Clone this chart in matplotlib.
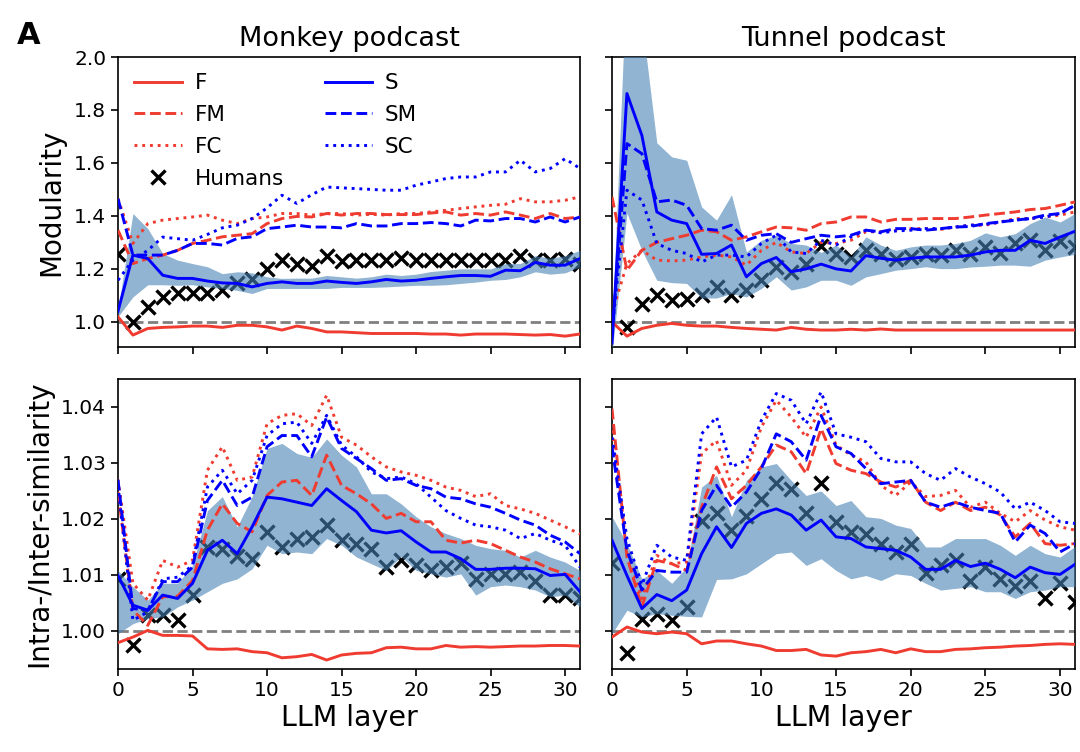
import numpy as np
import matplotlib
matplotlib.use("Agg")
import matplotlib.pyplot as plt
from matplotlib.ticker import FormatStrFormatter

layers = np.arange(32)
nan = np.nan

# ---------------- Modularity, Monkey podcast ----------------
mod_monkey_F = [1.019, 0.950, 0.975, 0.979, 0.981, 0.984, 0.984, 0.979, 0.987, 0.987, 0.981, 0.969, 0.984, 0.975, 0.962, 0.962,
                0.959, 0.956, 0.956, 0.956, 0.956, 0.954, 0.954, 0.950, 0.954, 0.954, 0.954, 0.952, 0.950, 0.952, 0.946, 0.954]
mod_monkey_FM = [1.346, 1.220, 1.239, 1.252, 1.270, 1.296, 1.308, 1.321, 1.327, 1.333, 1.371, 1.390, 1.398, 1.396, 1.409, 1.403,
                 1.409, 1.409, 1.405, 1.405, 1.405, 1.411, 1.415, 1.403, 1.409, 1.403, 1.415, 1.403, 1.390, 1.409, 1.390, 1.396]
mod_monkey_FC = [1.465, 1.296, 1.371, 1.384, 1.390, 1.396, 1.403, 1.384, 1.371, 1.390, 1.396, 1.409, 1.409, 1.403, 1.409, 1.409,
                 1.403, 1.406, 1.403, 1.409, 1.409, 1.415, 1.421, 1.428, 1.434, 1.440, 1.444, 1.465, 1.453, 1.453, 1.459, 1.472]
mod_monkey_S = [1.040, 1.252, 1.239, 1.176, 1.164, 1.164, 1.154, 1.147, 1.145, 1.132, 1.145, 1.151, 1.145, 1.145, 1.154, 1.149,
                1.145, 1.151, 1.160, 1.154, 1.157, 1.164, 1.170, 1.175, 1.175, 1.172, 1.195, 1.193, 1.224, 1.214, 1.214, 1.239]
mod_monkey_S_lo = [1.020, 1.094, 1.140, 1.140, 1.138, 1.140, 1.132, 1.126, 1.119, 1.107, 1.126, 1.126, 1.126, 1.126, 1.126, 1.130,
                   1.130, 1.130, 1.132, 1.135, 1.138, 1.138, 1.140, 1.145, 1.150, 1.157, 1.160, 1.170, 1.189, 1.180, 1.185, 1.208]
mod_monkey_S_hi = [1.045, 1.409, 1.352, 1.258, 1.233, 1.220, 1.208, 1.182, 1.189, 1.185, 1.170, 1.164, 1.165, 1.165, 1.175, 1.170,
                   1.165, 1.170, 1.180, 1.175, 1.180, 1.190, 1.195, 1.200, 1.200, 1.200, 1.220, 1.220, 1.250, 1.240, 1.250, 1.270]
mod_monkey_SM = [1.465, 1.252, 1.252, 1.252, 1.270, 1.296, 1.296, 1.290, 1.315, 1.321, 1.352, 1.358, 1.365, 1.358, 1.358, 1.355,
                 1.371, 1.362, 1.362, 1.371, 1.371, 1.375, 1.371, 1.362, 1.384, 1.381, 1.390, 1.390, 1.377, 1.396, 1.377, 1.396]
mod_monkey_SC = [1.157, 1.233, 1.270, 1.320, 1.314, 1.308, 1.330, 1.355, 1.365, 1.390, 1.430, 1.478, 1.447, 1.480, 1.509, 1.506,
                 1.503, 1.500, 1.497, 1.497, 1.516, 1.528, 1.541, 1.547, 1.547, 1.566, 1.566, 1.610, 1.566, 1.579, 1.616, 1.579]
mod_monkey_H = [1.258, 1.000, 1.057, 1.094, 1.110, 1.110, 1.110, 1.122, 1.145, 1.163, 1.200, 1.235, 1.220, 1.210, 1.248, 1.230,
                1.233, 1.233, 1.233, 1.240, 1.233, 1.233, 1.233, 1.233, 1.233, 1.233, 1.233, 1.248, 1.233, 1.233, 1.237, 1.220]

# ---------------- Modularity, Tunnel podcast ----------------
mod_tunnel_F = [1.000, 0.946, 0.975, 0.987, 0.994, 0.987, 0.984, 0.984, 0.979, 0.975, 0.972, 0.969, 0.979, 0.972, 0.969, 0.969,
                0.972, 0.969, 0.973, 0.969, 0.969, 0.969, 0.969, 0.969, 0.969, 0.969, 0.969, 0.969, 0.969, 0.969, 0.969, 0.969]
mod_tunnel_FM = [1.472, 1.195, 1.270, 1.300, 1.314, 1.327, 1.346, 1.340, 1.308, 1.321, 1.340, 1.358, 1.355, 1.346, 1.371, 1.377,
                 1.396, 1.396, 1.377, 1.387, 1.387, 1.390, 1.390, 1.390, 1.396, 1.403, 1.409, 1.415, 1.424, 1.428, 1.440, 1.453]
mod_tunnel_FC = [1.030, 1.220, 1.270, 1.233, 1.230, 1.233, 1.245, 1.252, 1.245, 1.214, 1.270, 1.300, 1.264, 1.258, 1.300, 1.296,
                 1.308, 1.340, 1.340, 1.346, 1.352, 1.352, 1.349, 1.358, 1.365, 1.365, 1.377, 1.390, 1.390, 1.396, 1.403, 1.415]
mod_tunnel_S = [0.920, 1.862, 1.704, 1.415, 1.384, 1.371, 1.255, 1.258, 1.290, 1.170, 1.220, 1.243, 1.189, 1.200, 1.218, 1.200,
                1.192, 1.250, 1.240, 1.233, 1.240, 1.245, 1.245, 1.245, 1.252, 1.264, 1.270, 1.270, 1.308, 1.296, 1.320, 1.342]
mod_tunnel_S_lo = [0.880, 1.410, 1.270, 1.157, 1.148, 1.145, 1.090, 1.090, 1.107, 1.094, 1.126, 1.170, 1.120, 1.132, 1.157, 1.157,
                   1.138, 1.170, 1.182, 1.195, 1.201, 1.208, 1.201, 1.201, 1.207, 1.210, 1.214, 1.214, 1.210, 1.233, 1.245, 1.255]
mod_tunnel_S_hi = [0.970, 2.340, 2.140, 1.676, 1.623, 1.610, 1.434, 1.384, 1.480, 1.264, 1.308, 1.327, 1.296, 1.290, 1.262, 1.290,
                   1.245, 1.321, 1.290, 1.270, 1.283, 1.290, 1.290, 1.296, 1.308, 1.336, 1.321, 1.333, 1.371, 1.396, 1.377, 1.409]
mod_tunnel_SM = [0.950, 1.673, 1.635, 1.453, 1.460, 1.440, 1.352, 1.346, 1.365, 1.308, 1.327, 1.333, 1.300, 1.314, 1.327, 1.321,
                 1.327, 1.346, 1.340, 1.352, 1.352, 1.346, 1.352, 1.358, 1.360, 1.371, 1.377, 1.384, 1.390, 1.403, 1.409, 1.440]
mod_tunnel_SC = [0.970, 1.497, 1.460, 1.296, 1.270, 1.258, 1.226, 1.252, 1.252, 1.245, 1.296, 1.327, 1.264, 1.258, 1.308, 1.290,
                 1.321, 1.346, 1.336, 1.343, 1.346, 1.352, 1.352, 1.358, 1.365, 1.368, 1.377, 1.384, 1.390, 1.396, 1.409, 1.440]
mod_tunnel_H = [nan, 0.981, 1.069, 1.101, 1.082, 1.088, 1.101, 1.130, 1.101, 1.122, 1.157, 1.208, 1.189, 1.220, 1.286, 1.258,
                1.245, 1.270, 1.255, 1.239, 1.245, 1.258, 1.252, 1.273, 1.255, 1.283, 1.260, 1.298, 1.308, 1.273, 1.306, 1.283]

# ---------------- Intra/Inter similarity, Monkey podcast ----------------
sim_monkey_F = [0.9979, 0.9989, 1.0001, 0.9992, 0.9992, 0.9991, 0.9968, 0.9967, 0.9968, 0.9963, 0.9961, 0.9952, 0.9954, 0.9958, 0.9948, 0.9957,
                0.9960, 0.9961, 0.9970, 0.9971, 0.9968, 0.9968, 0.9974, 0.9971, 0.9972, 0.9971, 0.9972, 0.9973, 0.9973, 0.9974, 0.9974, 0.9973]
sim_monkey_FM = [1.0248, 1.0037, 1.0010, 1.0061, 1.0062, 1.0090, 1.0180, 1.0227, 1.0192, 1.0177, 1.0242, 1.0266, 1.0269, 1.0242, 1.0314, 1.0260,
                 1.0245, 1.0227, 1.0201, 1.0210, 1.0195, 1.0195, 1.0162, 1.0157, 1.0162, 1.0156, 1.0144, 1.0132, 1.0123, 1.0111, 1.0102, 1.0093]
sim_monkey_FC = [1.0270, 1.0085, 1.0055, 1.0126, 1.0114, 1.0126, 1.0287, 1.0329, 1.0269, 1.0275, 1.0370, 1.0385, 1.0388, 1.0367, 1.0421, 1.0346,
                 1.0332, 1.0311, 1.0293, 1.0284, 1.0278, 1.0269, 1.0257, 1.0251, 1.0240, 1.0245, 1.0224, 1.0218, 1.0210, 1.0198, 1.0186, 1.0173]
sim_monkey_S = [1.0099, 1.0046, 1.0037, 1.0064, 1.0058, 1.0085, 1.0144, 1.0162, 1.0138, 1.0186, 1.0239, 1.0236, 1.0230, 1.0224, 1.0254, 1.0233,
                1.0213, 1.0180, 1.0175, 1.0179, 1.0159, 1.0141, 1.0141, 1.0129, 1.0110, 1.0110, 1.0112, 1.0112, 1.0111, 1.0099, 1.0101, 1.0070]
sim_monkey_S_lo = [0.9995, 1.0013, 1.0022, 1.0025, 1.0043, 1.0055, 1.0070, 1.0085, 1.0093, 1.0111, 1.0153, 1.0138, 1.0141, 1.0138, 1.0165, 1.0153,
                   1.0132, 1.0120, 1.0108, 1.0133, 1.0108, 1.0102, 1.0096, 1.0102, 1.0064, 1.0079, 1.0082, 1.0079, 1.0073, 1.0061, 1.0064, 1.0043]
sim_monkey_S_hi = [1.0108, 1.0079, 1.0055, 1.0085, 1.0085, 1.0117, 1.0215, 1.0240, 1.0186, 1.0240, 1.0326, 1.0335, 1.0317, 1.0310, 1.0343, 1.0314,
                   1.0293, 1.0245, 1.0245, 1.0227, 1.0204, 1.0186, 1.0174, 1.0165, 1.0153, 1.0147, 1.0144, 1.0132, 1.0144, 1.0132, 1.0123, 1.0108]
sim_monkey_SM = [1.0270, 1.0040, 1.0037, 1.0088, 1.0088, 1.0114, 1.0233, 1.0269, 1.0224, 1.0239, 1.0329, 1.0349, 1.0349, 1.0311, 1.0382, 1.0326,
                 1.0308, 1.0290, 1.0269, 1.0272, 1.0260, 1.0254, 1.0239, 1.0236, 1.0227, 1.0221, 1.0210, 1.0198, 1.0189, 1.0171, 1.0159, 1.0138]
sim_monkey_SC = [1.0260, 1.0019, 1.0034, 1.0093, 1.0096, 1.0117, 1.0257, 1.0287, 1.0245, 1.0269, 1.0349, 1.0370, 1.0373, 1.0335, 1.0385, 1.0332,
                 1.0311, 1.0284, 1.0272, 1.0275, 1.0263, 1.0239, 1.0215, 1.0201, 1.0189, 1.0186, 1.0180, 1.0165, 1.0174, 1.0162, 1.0153, 1.0114]
sim_monkey_H = [1.0093, 0.9974, 1.0028, 1.0028, 1.0019, 1.0064, 1.0150, 1.0147, 1.0133, 1.0129, 1.0177, 1.0150, 1.0165, 1.0167, 1.0189, 1.0162,
                1.0156, 1.0147, 1.0115, 1.0126, 1.0117, 1.0108, 1.0114, 1.0121, 1.0093, 1.0101, 1.0101, 1.0105, 1.0090, 1.0065, 1.0065, 1.0058]

# ---------------- Intra/Inter similarity, Tunnel podcast ----------------
sim_tunnel_F = [0.9989, 1.0007, 0.9998, 0.9995, 0.9998, 0.9995, 0.9977, 0.9982, 0.9982, 0.9977, 0.9973, 0.9965, 0.9965, 0.9967, 0.9957, 0.9955,
                0.9961, 0.9963, 0.9967, 0.9961, 0.9968, 0.9963, 0.9963, 0.9967, 0.9968, 0.9970, 0.9971, 0.9973, 0.9974, 0.9976, 0.9977, 0.9976]
sim_tunnel_FM = [1.0397, 1.0132, 1.0043, 1.0126, 1.0120, 1.0108, 1.0221, 1.0293, 1.0236, 1.0260, 1.0293, 1.0332, 1.0320, 1.0281, 1.0361, 1.0299,
                 1.0287, 1.0281, 1.0266, 1.0257, 1.0269, 1.0230, 1.0215, 1.0230, 1.0215, 1.0221, 1.0207, 1.0168, 1.0192, 1.0156, 1.0153, 1.0156]
sim_tunnel_FC = [1.0358, 1.0144, 1.0058, 1.0135, 1.0120, 1.0123, 1.0317, 1.0340, 1.0260, 1.0287, 1.0364, 1.0412, 1.0382, 1.0346, 1.0400, 1.0332,
                 1.0314, 1.0302, 1.0260, 1.0242, 1.0266, 1.0240, 1.0242, 1.0251, 1.0221, 1.0230, 1.0210, 1.0195, 1.0215, 1.0198, 1.0186, 1.0180]
sim_tunnel_S = [1.0162, 1.0099, 1.0040, 1.0065, 1.0054, 1.0073, 1.0138, 1.0186, 1.0149, 1.0192, 1.0210, 1.0218, 1.0207, 1.0180, 1.0198, 1.0168,
                1.0165, 1.0150, 1.0147, 1.0144, 1.0132, 1.0110, 1.0110, 1.0126, 1.0115, 1.0121, 1.0110, 1.0095, 1.0114, 1.0104, 1.0101, 1.0119]
sim_tunnel_S_lo = [0.9995, 1.0037, 1.0025, 1.0031, 1.0028, 1.0026, 1.0025, 1.0092, 1.0093, 1.0102, 1.0120, 1.0138, 1.0141, 1.0117, 1.0129, 1.0108,
                   1.0093, 1.0099, 1.0090, 1.0102, 1.0099, 1.0085, 1.0073, 1.0076, 1.0079, 1.0070, 1.0070, 1.0058, 1.0070, 1.0073, 1.0079, 1.0079]
sim_tunnel_S_hi = [1.0204, 1.0156, 1.0093, 1.0108, 1.0085, 1.0114, 1.0257, 1.0278, 1.0204, 1.0269, 1.0293, 1.0299, 1.0269, 1.0242, 1.0250, 1.0224,
                   1.0233, 1.0204, 1.0201, 1.0189, 1.0183, 1.0150, 1.0150, 1.0165, 1.0165, 1.0165, 1.0153, 1.0135, 1.0153, 1.0138, 1.0132, 1.0151]
sim_tunnel_SM = [1.0329, 1.0144, 1.0073, 1.0108, 1.0105, 1.0105, 1.0215, 1.0260, 1.0221, 1.0248, 1.0290, 1.0352, 1.0338, 1.0305, 1.0385, 1.0329,
                 1.0317, 1.0290, 1.0263, 1.0266, 1.0269, 1.0230, 1.0221, 1.0230, 1.0221, 1.0215, 1.0210, 1.0159, 1.0189, 1.0174, 1.0141, 1.0156]
sim_tunnel_SC = [1.0346, 1.0165, 1.0082, 1.0153, 1.0132, 1.0126, 1.0352, 1.0382, 1.0293, 1.0305, 1.0376, 1.0424, 1.0412, 1.0370, 1.0427, 1.0352,
                 1.0346, 1.0338, 1.0308, 1.0302, 1.0302, 1.0281, 1.0269, 1.0290, 1.0275, 1.0263, 1.0248, 1.0218, 1.0230, 1.0215, 1.0195, 1.0192]
sim_tunnel_H = [1.0121, 0.9960, 1.0022, 1.0030, 1.0020, 1.0043, 1.0196, 1.0211, 1.0180, 1.0205, 1.0235, 1.0264, 1.0254, 1.0210, 1.0264, 1.0195,
                1.0177, 1.0174, 1.0156, 1.0141, 1.0155, 1.0104, 1.0117, 1.0126, 1.0089, 1.0114, 1.0093, 1.0080, 1.0089, 1.0058, 1.0085, 1.0052]

titles = ["Monkey podcast", "Tunnel podcast"]
ylabels = ["Modularity", "Intra-/Inter-similarity"]
xlabel = "LLM layer"

RED = "#ef3b30"
BLUE = "#0000ff"
BAND = "steelblue"

fig = plt.figure(figsize=(10.8, 7.52), dpi=100)
W, H = 1080.0, 752.0
def pos(l, r, t, b):
    return [l / W, 1 - b / H, (r - l) / W, (b - t) / H]

ax_pos = [[pos(118, 580, 57, 347), pos(612, 1075, 57, 347)],
          [pos(118, 580, 379, 669), pos(612, 1075, 379, 669)]]

panels = [
    [(mod_monkey_F, mod_monkey_FM, mod_monkey_FC, mod_monkey_S, mod_monkey_S_lo, mod_monkey_S_hi, mod_monkey_SM, mod_monkey_SC, mod_monkey_H),
     (mod_tunnel_F, mod_tunnel_FM, mod_tunnel_FC, mod_tunnel_S, mod_tunnel_S_lo, mod_tunnel_S_hi, mod_tunnel_SM, mod_tunnel_SC, mod_tunnel_H)],
    [(sim_monkey_F, sim_monkey_FM, sim_monkey_FC, sim_monkey_S, sim_monkey_S_lo, sim_monkey_S_hi, sim_monkey_SM, sim_monkey_SC, sim_monkey_H),
     (sim_tunnel_F, sim_tunnel_FM, sim_tunnel_FC, sim_tunnel_S, sim_tunnel_S_lo, sim_tunnel_S_hi, sim_tunnel_SM, sim_tunnel_SC, sim_tunnel_H)],
]

ylims = [(0.905, 2.0), (0.9932, 1.045)]
yticks = [np.arange(1.0, 2.01, 0.2), np.arange(1.00, 1.041, 0.01)]
yfmt = ["%.1f", "%.2f"]
LW = 2.1

for r in range(2):
    for c in range(2):
        ax = fig.add_axes(ax_pos[r][c])
        F, FM, FC, S, S_lo, S_hi, SM, SC, Hm = panels[r][c]
        ax.axhline(1.0, color="gray", ls="--", lw=2.0, zorder=1)
        hx, = ax.plot(layers, Hm, ls="none", marker="x", ms=10, mew=2.4, color="black", zorder=2, label="Humans")
        ax.fill_between(layers, S_lo, S_hi, color=BAND, alpha=0.6, lw=0, zorder=3)
        l_F, = ax.plot(layers, F, color=RED, ls="-", lw=LW, zorder=4, label="F")
        l_FM, = ax.plot(layers, FM, color=RED, ls="--", lw=LW, zorder=4, label="FM")
        l_FC, = ax.plot(layers, FC, color=RED, ls=":", lw=LW, zorder=4, label="FC")
        l_S, = ax.plot(layers, S, color=BLUE, ls="-", lw=LW, zorder=5, label="S")
        l_SM, = ax.plot(layers, SM, color=BLUE, ls="--", lw=LW, zorder=5, label="SM")
        l_SC, = ax.plot(layers, SC, color=BLUE, ls=":", lw=LW, zorder=5, label="SC")
        ax.set_xlim(0, 31)
        ax.set_ylim(*ylims[r])
        ax.set_yticks(yticks[r])
        ax.yaxis.set_major_formatter(FormatStrFormatter(yfmt[r]))
        ax.set_xticks(np.arange(0, 31, 5))
        ax.tick_params(labelsize=14.5, length=5, width=1.2)
        for sp in ax.spines.values():
            sp.set_linewidth(1.2)
        if r == 0:
            ax.set_title(titles[c], fontsize=19.5, pad=8)
            ax.tick_params(labelbottom=False)
        else:
            ax.set_xlabel(xlabel, fontsize=20.5, labelpad=3)
        if c == 0:
            ax.set_ylabel(ylabels[r], fontsize=20, labelpad=6)
        else:
            ax.tick_params(labelleft=False)
        if r == 0 and c == 0:
            ax.legend([l_F, l_FM, l_FC, hx, l_S, l_SM, l_SC],
                      ["F", "FM", "FC", "Humans", "S", "SM", "SC"],
                      ncol=2, loc="upper left", frameon=False, fontsize=15.5,
                      handlelength=2.2, handletextpad=0.6, columnspacing=1.9,
                      labelspacing=0.55, borderaxespad=0.35)

fig.text(0.016, 0.972, "A", fontsize=22, fontweight="bold", va="top", ha="left")

fig.savefig("out.png", dpi=100)
